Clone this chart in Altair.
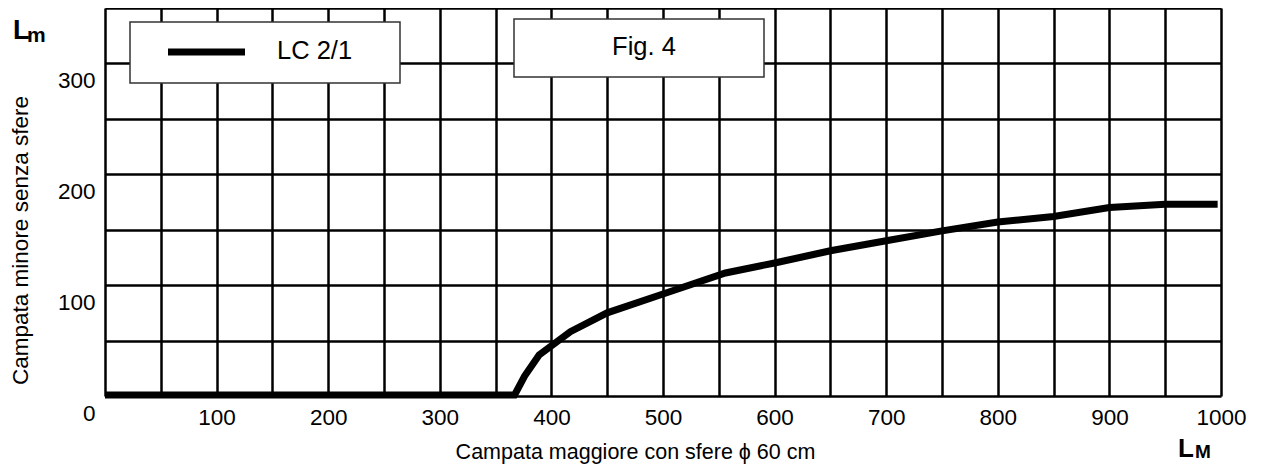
import altair as alt
import pandas as pd

# ---- data ----
series_name = ["LC 2/1"]
fig_label = ["Fig. 4"]
x_span = [0, 367, 376, 389, 417, 450, 500, 556, 600, 650, 700, 750, 800, 850, 900, 950, 997]
y_span = [1, 1, 18, 37, 58, 75, 92, 111, 120, 131, 140, 149, 157, 162, 170, 173, 173]
x_grid = list(range(0, 1001, 50))
y_grid = list(range(0, 351, 50))
x_title = "Campata maggiore con sfere \u03d5 60 cm"
y_title = "Campata minore senza sfere"

W, H = 1116, 388
FONT = "Liberation Sans"

df = pd.DataFrame({"x": x_span, "y": y_span, "serie": series_name * len(x_span)})

x_axis = alt.Axis(
    values=x_grid, grid=True, gridColor="black", gridWidth=2.5, gridOpacity=1,
    ticks=False, domain=False, format="d",
    labelExpr="datum.value % 100 == 0 && datum.value > 0 ? datum.label : ''",
    labelFont=FONT, labelFontSize=22.5, labelColor="black", labelPadding=10,
    labelFlush=False,
    title=x_title, titleFont=FONT, titleFontSize=21.5, titleFontWeight="normal",
    titleColor="black", titleX=530, titleY=56, titleAlign="center",
    titleBaseline="middle",
)
y_axis = alt.Axis(
    values=y_grid, grid=True, gridColor="black", gridWidth=2.5, gridOpacity=1,
    ticks=False, domain=False, format="d",
    labelExpr="datum.value % 100 == 0 ? datum.label : ''",
    labelFont=FONT, labelFontSize=22.5, labelColor="black", labelPadding=10,
    labelOffset=17, labelFlush=False,
    title=y_title, titleFont=FONT, titleFontSize=22.5, titleFontWeight="normal",
    titleColor="black", titleX=-85, titleY=232, titleAngle=-90,
    titleAlign="center", titleBaseline="middle",
)

line = alt.Chart(df).mark_line(color="black", strokeWidth=7, clip=False).encode(
    x=alt.X("x:Q", scale=alt.Scale(domain=[0, 1000], nice=False, zero=False), axis=x_axis),
    y=alt.Y("y:Q", scale=alt.Scale(domain=[0, 350], nice=False, zero=False), axis=y_axis),
)

leg_df = pd.DataFrame({"label": series_name})
leg_box = alt.Chart(leg_df).mark_rect(fill="white", stroke="#333", strokeWidth=1.5).encode(
    x=alt.value(25), x2=alt.value(295), y=alt.value(14), y2=alt.value(75)
)
leg_line = alt.Chart(leg_df).mark_rule(color="black", strokeWidth=7).encode(
    x=alt.value(63), x2=alt.value(140), y=alt.value(44)
)
leg_text = alt.Chart(leg_df).mark_text(
    font=FONT, fontSize=25.5, align="left", baseline="middle", color="black"
).encode(x=alt.value(172), y=alt.value(43), text="label:N")

fig_df = pd.DataFrame({"label": fig_label})
fig_box = alt.Chart(fig_df).mark_rect(fill="white", stroke="#333", strokeWidth=1.5).encode(
    x=alt.value(409), x2=alt.value(659), y=alt.value(11), y2=alt.value(69)
)
fig_text = alt.Chart(fig_df).mark_text(
    font=FONT, fontSize=25.5, align="center", baseline="middle", color="black"
).encode(x=alt.value(539), y=alt.value(39), text="label:N")

sym_df = pd.DataFrame({"s": ["L"]})
def sym(txt, x, y, size):
    return alt.Chart(sym_df).mark_text(
        font=FONT, fontSize=size, fontWeight="bold", align="left",
        baseline="alphabetic", color="black", text=txt
    ).encode(x=alt.value(x), y=alt.value(y))

Lm = sym("L", -92, 31, 27) + sym("m", -78, 34, 21)
LM = sym("L", 1073, 449, 26) + sym("M", 1090, 450, 19)

chart = alt.layer(
    line, leg_box, leg_line, leg_text, fig_box, fig_text, Lm, LM
).properties(
    width=W, height=H,
    autosize=alt.AutoSizeParams(type="none"),
    padding={"left": 97, "top": 0, "right": 38, "bottom": 68},
).configure_view(stroke=None).configure(background="white")

chart.save("out.html", embed_options={"renderer": "svg", "actions": False})
